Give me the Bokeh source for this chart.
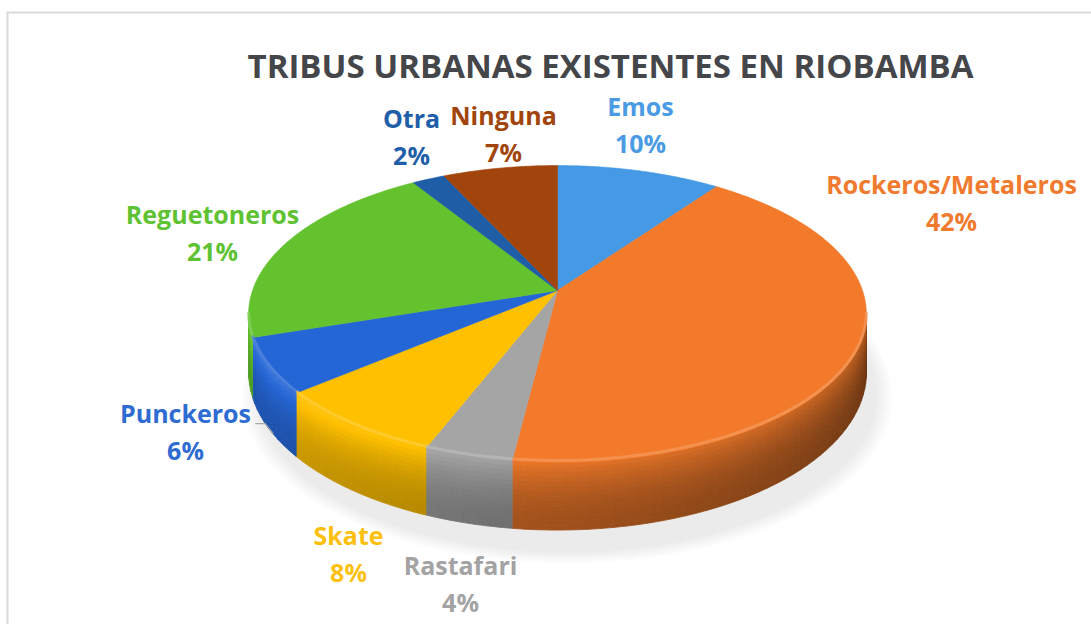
import numpy as np
from bokeh.plotting import figure
from bokeh.models import Range1d
from bokeh.embed import file_html
from bokeh.resources import INLINE
from bokeh.core.properties import value

# ---------------- data ----------------
title_text = "TRIBUS URBANAS EXISTENTES EN RIOBAMBA"
categories = ["Emos", "Rockeros/Metaleros", "Rastafari", "Skate",
              "Punckeros", "Reguetoneros", "Otra", "Ninguna"]
values = [10, 42, 4, 8, 6, 21, 2, 7]
colors = ["#4599E5", "#F27A2A", "#A5A5A5", "#FFC000",
          "#2566D6", "#64C22E", "#1F5DA6", "#A2450C"]
label_colors = ["#4A9AE4", "#F07A2D", "#A3A3A3", "#FDBF10",
                "#2E6BD2", "#5EC232", "#1F5EA8", "#A2450C"]

# label layout (screen px, first-line centre)
label_pos = {
    "Emos": (640, 108),
    "Rockeros/Metaleros": (951, 186),
    "Rastafari": (460, 567),
    "Skate": (348, 537),
    "Punckeros": (185, 415),
    "Reguetoneros": (212, 216),
    "Otra": (411, 120),
    "Ninguna": (503, 117),
}

# ---------------- geometry ----------------
CX, B0 = 557.0, 290.0     # apex
R = 305.0
A, C = 98.9, -0.158       # perspective
H = 57.0                  # side depth


def proj(phi):
    u = np.sin(phi)
    v = -np.cos(phi)
    d = 1 + C * v
    return CX + R * u / d, (A * v + B0) / d, H / d


def to_rgb(h):
    return np.array([int(h[1:3], 16), int(h[3:5], 16), int(h[5:7], 16)], float)


def shade(h, f):
    c = to_rgb(h)
    if f <= 1:
        c = c * f
    else:
        c = c + (255 - c) * min(f - 1, 1)
    c = np.clip(c, 0, 255).astype(int)
    return "#%02x%02x%02x" % tuple(c)


p = figure(width=1091, height=624, output_backend="svg", toolbar_location=None,
           x_range=Range1d(0, 1091), y_range=Range1d(624, 0),
           min_border=0, min_border_left=0, min_border_right=0,
           min_border_top=0, min_border_bottom=0)
p.xaxis.visible = False
p.yaxis.visible = False
p.grid.visible = False
p.outline_line_color = None
p.background_fill_color = "white"
p.border_fill_color = "white"

# frame lines of the original picture
p.line([7, 7], [12, 624], line_color="#DADADA", line_width=2)
p.line([6, 1091], [12, 12], line_color="#DADADA", line_width=2)

# soft shadow under pie
phis_full = np.radians(np.linspace(0, 360, 181))
bx, by, bh = proj(phis_full)
by = by + bh
scx = CX + 10
for k in range(10):
    s = 1.0 + 0.006 * k
    p.patch(scx + (bx - CX) * s, 330 + (by - 320) * s + 12,
            fill_color="#808080", fill_alpha=0.018, line_color=None)

total = float(sum(values))
starts = np.cumsum([0] + values[:-1]) / total * 2 * np.pi
ends = np.cumsum(values) / total * 2 * np.pi

vis_l = np.arccos(C)              # ~99 deg
vis_r = 2 * np.pi - np.arccos(C)  # ~261 deg

# side walls (strips with gradient)
sxs, sys, scs = [], [], []
nb = 14
for s0, e0, col in zip(starts, ends, colors):
    a0, a1 = max(s0, vis_l), min(e0, vis_r)
    if a1 <= a0:
        continue
    n = max(2, int(np.degrees(a1 - a0) / 2.0) + 1)
    ph = np.linspace(a0, a1, n)
    for i in range(n - 1):
        p0, p1 = ph[i], ph[i + 1]
        x0, y0, h0 = proj(p0)
        x1, y1, h1 = proj(p1)
        deg = np.degrees((p0 + p1) / 2)
        fh = 0.45 + 0.40 * np.clip((deg - 90) / 150, 0, 1)
        for j in range(nb):
            t0, t1 = j / nb, (j + 1) / nb
            tm = (t0 + t1) / 2
            f = fh + 0.30 * (1 - tm) ** 2 - 0.03
            sxs.append([x0, x1, x1, x0])
            sys.append([y0 + h0 * t0, y1 + h1 * t0, y1 + h1 * t1, y0 + h0 * t1])
            scs.append(shade(col, f))
p.patches(sxs, sys, fill_color=scs, line_color=scs, line_width=0.8)

# top faces
for s0, e0, col in zip(starts, ends, colors):
    n = max(3, int(np.degrees(e0 - s0) / 0.5) + 1)
    ph = np.linspace(s0, e0, n)
    x, y, _ = proj(ph)
    xs = np.concatenate([[CX], x])
    ys = np.concatenate([[B0], y])
    p.patch(xs, ys, fill_color=col, line_color=col, line_width=0.6)

# light rim highlight on front edge
for s0, e0, col in zip(starts, ends, colors):
    a0, a1 = max(s0, vis_l), min(e0, vis_r)
    if a1 <= a0:
        continue
    ph = np.linspace(a0, a1, max(3, int(np.degrees(a1 - a0)) + 1))
    x, y, _ = proj(ph)
    p.line(x, y - 2, line_color=shade(col, 1.25), line_width=3, line_alpha=0.7)

# labels
fnt = value("Open Sans")
for cat, v, lc, s0, e0 in zip(categories, values, label_colors, starts, ends):
    lx, ly = label_pos[cat]
    p.text(x=[lx, lx], y=[ly - 3, ly + 34], text=[cat, "%d%%" % v],
           text_font=fnt, text_font_style="bold", text_font_size="25px",
           text_color=lc, text_align="center", text_baseline="alphabetic")
    if cat == "Punckeros":
        mx, my, mh = proj((s0 + e0) / 2)
        ex, ey = mx + 5, my + mh + 6
        p.line([ex - 18, ex - 8, ex], [ey - 10, ey - 10, ey],
               line_color="#A6A6A6", line_width=1.2)

# title
p.text(x=[610], y=[65], text=[title_text], text_font=fnt,
       text_font_style="bold", text_font_size="33px", text_color="#44464A",
       text_align="center", text_baseline="alphabetic")

open("out.html", "w").write(file_html(p, INLINE))
